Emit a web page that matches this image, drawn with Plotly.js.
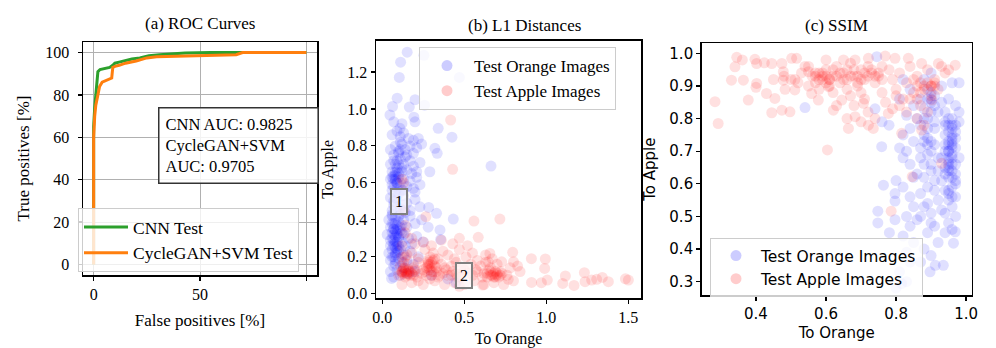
<!DOCTYPE html>
<html><head><meta charset="utf-8">
<script src="https://cdn.plot.ly/plotly-3.0.1.min.js"></script>
<style>html,body{margin:0;padding:0;background:#fff}#chart{width:996px;height:348px}</style>
</head><body><div id="chart"></div>
<script>
// ---- ROC data ----
const rocCnnFpr = [0,0,0,0.5,1,1.5,2,3,5,7.5,9,10,12,15.5,18,21.7,26,31,36,43,55,65,80,100];
const rocCnnTpr = [0,45,65,74,80,88,91,92,92.5,93,94,95,95.5,96.5,97,97.5,98.5,99,99.4,99.8,100,100,100,100];
const rocSvmFpr = [0,0,0,0.5,1,2,2.8,4,5,6,7,8.5,9,10,12,15,20,25,29.6,40,50,67,70,100];
const rocSvmTpr = [0,30,60,70,75,80,84,86,86.5,86.8,87.5,88,93,93.5,94,95,96,97.5,98,98.3,98.5,99,100,100];
const rocNames = ["CNN Test","CycleGAN+SVM Test"];
const aucText = ["CNN AUC: 0.9825","CycleGAN+SVM","AUC: 0.9705"];

// ---- L1 distances ----
const l1OrangeX = [0.152,0.112,0.104,0.254,0.47,0.091,0.063,0.047,0.165,0.2,0.258,0.193,0.108,0.341,0.425,0.321,0.335,0.29,0.663,0.283,0.331,0.433,0.352,0.356,0.057,
0.06,0.09,0.11,0.13,0.16,0.19,0.22,0.07,0.12,0.20,
0.05,0.08,0.10,0.12,0.14,0.17,0.19,0.21,0.24,0.07,0.15,0.11,
0.05,0.07,0.09,0.11,0.13,0.15,0.17,0.19,0.21,0.23,0.08,0.12,0.10,0.14,0.18,
0.05,0.06,0.07,0.08,0.09,0.10,0.11,0.12,0.13,0.15,0.17,0.19,0.21,0.23,0.08,0.20,
0.05,0.07,0.09,0.11,0.13,0.15,0.17,0.20,0.23,0.06,
0.04,0.05,0.06,0.07,0.08,0.09,0.10,0.11,0.12,0.13,0.15,0.17,0.20,0.24,0.28,
0.03,0.05,0.06,0.07,0.08,0.09,0.10,0.11,0.12,0.13,0.14,0.16,0.18,0.21,0.25,0.08,
0.04,0.05,0.06,0.07,0.08,0.09,0.10,0.11,0.12,0.13,0.15,0.17,0.19,0.22,0.07,
0.05,0.07,0.09,0.11,0.13,0.16,0.20,0.30,0.40,0.45,
0.06,0.08,0.09,0.10,0.07,0.09,0.08,0.10,0.09,0.11,
0.07,0.08,0.09,0.07,0.09,0.06,0.08,0.10,0.07,0.09,
0.06,0.08,0.07,0.09,0.06,0.08,0.07,0.09,0.08,0.06,
0.07,0.08,0.10,0.07,0.09,0.06,0.10,0.08,0.10,0.05,
0.09,0.10,0.08,0.12,0.06,0.11,0.13,0.12,0.14,0.12];
const l1OrangeY = [1.307,1.253,1.17,1.29,1.17,1.058,1.013,0.967,1.01,1.05,1.02,0.955,0.895,0.895,0.847,0.787,0.76,0.66,0.691,0.467,0.435,0.404,0.345,0.294,0.083,
0.86,0.88,0.85,0.87,0.84,0.83,0.84,0.93,0.92,0.93,
0.78,0.80,0.77,0.81,0.78,0.80,0.76,0.79,0.81,0.75,0.75,0.82,
0.70,0.72,0.68,0.73,0.70,0.67,0.72,0.69,0.66,0.71,0.66,0.66,0.70,0.74,0.65,
0.62,0.59,0.64,0.61,0.57,0.63,0.60,0.56,0.62,0.58,0.61,0.57,0.63,0.59,0.55,0.55,
0.52,0.48,0.51,0.46,0.53,0.49,0.45,0.51,0.47,0.45,
0.40,0.36,0.43,0.38,0.41,0.35,0.39,0.43,0.37,0.40,0.36,0.42,0.38,0.40,0.36,
0.32,0.29,0.33,0.27,0.31,0.26,0.30,0.34,0.28,0.32,0.26,0.30,0.27,0.31,0.28,0.25,
0.22,0.18,0.24,0.20,0.16,0.22,0.19,0.24,0.17,0.21,0.18,0.23,0.16,0.20,0.15,
0.12,0.09,0.13,0.10,0.14,0.11,0.12,0.10,0.08,0.06,
0.63,0.62,0.60,0.65,0.35,0.32,0.21,0.23,0.28,0.36,
0.62,0.64,0.60,0.58,0.66,0.56,0.52,0.54,0.50,0.47,
0.42,0.38,0.35,0.33,0.30,0.28,0.26,0.24,0.22,0.20,
0.32,0.34,0.31,0.29,0.37,0.38,0.26,0.18,0.42,0.26,
0.72,0.76,0.70,0.68,0.66,0.78,0.56,0.48,0.44,0.33];

const l1AppleX = [0.417,0.429,0.559,0.717,0.585,0.47,0.266,0.909,0.994,0.99,0.91,0.97,1.006,1.10,1.116,1.169,1.232,1.236,1.276,1.307,1.341,1.378,1.482,1.5,0.825,0.84,0.795,0.8,0.728,0.656,0.646,0.768,0.612,
0.12,0.18,0.25,0.32,0.38,0.44,0.50,0.56,0.62,0.68,0.74,0.80,0.22,0.47,
0.10,0.12,0.14,0.15,0.17,0.19,0.21,0.24,0.27,0.29,0.31,0.34,0.37,0.40,0.43,0.46,0.52,0.55,0.58,0.61,0.64,0.67,0.69,0.71,0.73,0.76,0.13,0.16,0.30,0.66,
0.11,0.13,0.16,0.19,0.22,0.25,0.28,0.30,0.33,0.36,0.39,0.42,0.45,0.48,0.54,0.57,0.60,0.63,0.66,0.70,0.78,0.29,
0.14,0.18,0.22,0.26,0.29,0.31,0.34,0.37,0.40,0.44,0.47,0.51,0.55,0.58,0.63,0.67,0.28,
0.12,0.18,0.20,0.25,0.30,0.36,0.43,0.52,0.14,
0.12,0.13,0.14,0.13,0.12,0.15,0.28,0.32,0.70,0.72,0.68,
0.12,0.13,0.14,0.15,0.16,0.17,0.18,0.19,0.20,0.14,
0.27,0.29,0.30,0.31,0.28,0.32,0.26,0.33,0.35,0.30,
0.62,0.64,0.66,0.68,0.70,0.72,0.65,0.69,0.45,0.48,
0.12,0.13,0.15,0.38,0.42,0.50];
const l1AppleY = [0.94,0.673,0.393,0.404,0.305,0.30,0.417,0.19,0.188,0.137,0.061,0.06,0.074,0.056,0.096,0.045,0.114,0.065,0.074,0.078,0.088,0.065,0.081,0.074,0.15,0.12,0.224,0.173,0.173,0.218,0.173,0.078,0.047,
0.05,0.06,0.05,0.07,0.05,0.06,0.05,0.07,0.05,0.06,0.05,0.07,0.07,0.04,
0.10,0.12,0.09,0.11,0.10,0.12,0.09,0.11,0.10,0.08,0.12,0.09,0.11,0.10,0.12,0.09,0.11,0.10,0.12,0.09,0.11,0.10,0.12,0.09,0.11,0.10,0.11,0.12,0.10,0.12,
0.15,0.14,0.16,0.14,0.17,0.13,0.15,0.17,0.14,0.16,0.13,0.15,0.17,0.14,0.16,0.13,0.15,0.17,0.14,0.16,0.14,0.13,
0.20,0.22,0.19,0.24,0.20,0.22,0.19,0.23,0.21,0.19,0.24,0.20,0.22,0.18,0.21,0.19,0.18,
0.26,0.30,0.27,0.28,0.26,0.29,0.27,0.26,0.33,
0.62,0.60,0.37,0.45,0.12,0.11,0.16,0.19,0.11,0.10,0.09,
0.11,0.13,0.12,0.10,0.13,0.12,0.11,0.10,0.13,0.14,
0.14,0.16,0.14,0.18,0.17,0.15,0.12,0.12,0.10,0.12,
0.11,0.09,0.10,0.11,0.10,0.12,0.13,0.09,0.11,0.09,
0.20,0.17,0.21,0.14,0.10,0.13];

// ---- SSIM ----
const ssimOrangeX = [0.745,0.74,0.54,0.759,0.764,0.748,0.748,0.781,0.797,0.797,0.797,0.816,0.897,0.912,0.935,0.964,0.969,0.76,0.78,0.82,0.81,0.80,0.82,
0.94,0.96,0.98,0.95,0.97,0.94,0.96,0.95,0.97,0.94,0.96,0.95,0.97,0.94,0.96,0.95,0.97,0.96,0.94,0.97,0.95,0.96,0.94,0.97,0.95,0.96,0.98,0.97,0.95,0.96,0.98,0.95,0.96,0.93,0.98,0.93,
0.88,0.90,0.89,0.91,0.87,0.90,0.88,0.92,0.89,0.87,0.91,0.88,0.90,0.87,0.89,0.92,0.88,0.90,0.86,0.91,0.89,0.87,0.92,0.88,0.90,0.86,0.91,0.89,0.92,0.88,0.90,0.87,0.91,0.86,0.93,
0.82,0.84,0.81,0.85,0.83,0.84,0.85,0.83,0.84,0.85,0.82,0.84,0.85,0.83,0.84,0.82,0.85,0.83,0.84,0.81,0.83,0.80,
0.95,0.96,0.95,0.96,0.94,0.90,0.89,0.93,0.97,0.95,
0.95,0.96,0.95,0.96,0.95,0.96,0.95,0.96,0.94,0.97,
0.95,0.96,0.94,0.97,0.95,0.96,0.94,0.97,0.95,0.96,
0.89,0.90,0.91,0.88,0.90,0.89,0.91,0.88,0.90,0.89,
0.87,0.90,0.88,0.91,0.89,0.90,0.87,0.93,0.94,0.92];
const ssimOrangeY = [0.99,0.83,0.834,0.714,0.596,0.516,0.48,0.45,0.57,0.547,0.49,0.294,0.33,0.35,0.35,0.418,0.453,0.79,0.78,0.75,0.71,0.61,0.68,
0.82,0.80,0.79,0.78,0.76,0.75,0.74,0.72,0.71,0.70,0.69,0.67,0.66,0.65,0.64,0.62,0.61,0.59,0.58,0.56,0.55,0.53,0.51,0.50,0.48,0.46,0.82,0.84,0.86,0.91,0.91,0.73,0.77,0.68,0.68,0.61,
0.92,0.94,0.89,0.87,0.86,0.85,0.83,0.82,0.80,0.78,0.77,0.75,0.73,0.71,0.69,0.68,0.66,0.64,0.63,0.61,0.59,0.57,0.55,0.53,0.51,0.49,0.47,0.45,0.42,0.40,0.38,0.36,0.72,0.80,0.90,
0.92,0.89,0.86,0.84,0.81,0.77,0.73,0.70,0.66,0.62,0.59,0.56,0.53,0.50,0.47,0.44,0.42,0.39,0.36,0.33,0.30,0.28,
0.70,0.75,0.65,0.72,0.78,0.86,0.74,0.85,0.63,0.57,
0.80,0.78,0.76,0.73,0.70,0.68,0.66,0.71,0.79,0.74,
0.64,0.62,0.72,0.78,0.68,0.66,0.63,0.60,0.58,0.56,
0.86,0.88,0.84,0.80,0.82,0.77,0.79,0.73,0.70,0.72,
0.68,0.66,0.62,0.58,0.54,0.48,0.50,0.52,0.45,0.64];

const ssimAppleX = [0.345,0.361,0.397,0.402,0.34,0.33,0.364,0.402,0.40,0.378,0.43,0.454,0.445,0.474,0.497,0.424,0.445,0.474,0.502,0.516,0.478,0.478,0.511,0.511,0.483,0.54,0.55,0.559,0.578,0.607,0.621,0.645,0.664,0.683,0.707,0.721,0.735,0.683,0.721,0.769,0.797,0.835,0.873,0.921,0.969,0.778,0.816,0.846,0.786,0.604,0.283,0.292,0.93,0.873,0.902,
0.56,0.57,0.58,0.59,0.60,0.61,0.62,0.63,0.64,0.65,0.66,0.67,0.68,0.69,0.70,0.71,0.72,0.73,0.74,0.75,0.76,0.58,0.62,0.66,0.70,0.55,0.60,0.65,0.52,0.53,
0.78,0.79,0.80,0.81,0.82,0.83,0.84,0.85,0.86,0.87,0.88,0.89,0.90,0.91,0.92,0.93,0.94,0.81,0.83,0.86,0.88,0.89,0.91,0.90,0.80,0.95,0.76,0.77,0.79,
0.68,0.72,0.74,0.70,0.66,0.63,0.67,0.71,0.59,0.61,0.69,0.57,
0.57,0.58,0.59,0.60,0.61,0.62,0.63,0.64,0.65,0.66,
0.67,0.68,0.69,0.70,0.71,0.72,0.73,0.74,0.75,0.76,
0.86,0.87,0.88,0.89,0.90,0.91,0.85,0.86,0.84,0.87,
0.48,0.50,0.45,0.55,0.60];
const ssimAppleY = [0.988,0.98,0.982,0.969,0.959,0.918,0.918,0.908,0.896,0.857,0.877,0.862,0.818,0.826,0.821,0.971,0.969,0.969,0.985,0.985,0.944,0.918,0.92,0.888,0.89,0.96,0.944,0.877,0.857,0.898,0.826,0.857,0.77,0.806,0.847,0.78,0.77,0.98,0.985,0.992,0.985,0.985,0.969,0.969,0.964,0.816,0.755,0.622,0.516,0.704,0.852,0.785,0.663,0.765,0.857,
0.93,0.91,0.94,0.92,0.95,0.90,0.93,0.96,0.91,0.94,0.92,0.97,0.93,0.90,0.95,0.92,0.96,0.94,0.91,0.93,0.96,0.89,0.88,0.89,0.88,0.96,0.98,0.98,0.91,0.94,
0.95,0.92,0.89,0.94,0.86,0.91,0.96,0.88,0.93,0.84,0.90,0.95,0.87,0.92,0.89,0.96,0.94,0.84,0.82,0.80,0.78,0.82,0.90,0.90,0.87,0.95,0.88,0.85,0.83,
0.84,0.82,0.80,0.79,0.80,0.84,0.87,0.86,0.93,0.92,0.91,0.94,
0.93,0.92,0.94,0.93,0.92,0.95,0.93,0.94,0.92,0.95,
0.93,0.95,0.93,0.92,0.94,0.93,0.95,0.93,0.94,0.92,
0.90,0.88,0.89,0.91,0.90,0.91,0.92,0.86,0.86,0.91,
0.93,0.92,0.92,0.90,0.91];

const scatterNames = ["Test Orange Images","Test Apple Images"];
const calloutLabels = ["1","2"];
const calloutX = [0.10,0.50];
const calloutY = [0.50,0.10];
const panelTitles = ["(a) ROC Curves","(b) L1 Distances","(c) SSIM"];

// ---- layout helpers ----
const W = 996, H = 348;
const px = v => v / W, py = v => 1 - v / H;
const SERIF = "Liberation Serif, Times New Roman, serif";
const SANS = "DejaVu Sans, sans-serif";

const mk = (c) => ({color: c, size: 11, opacity: 0.12, line: {width: 0}});
const traces = [
  {type:'scatter', mode:'lines', x: rocCnnFpr, y: rocCnnTpr, name: rocNames[0], line:{color:'#2ca02c', width:3}, xaxis:'x', yaxis:'y', legend:'legend'},
  {type:'scatter', mode:'lines', x: rocSvmFpr, y: rocSvmTpr, name: rocNames[1], line:{color:'#ff7f0e', width:3}, xaxis:'x', yaxis:'y', legend:'legend'},
  {type:'scatter', mode:'markers', x: l1OrangeX, y: l1OrangeY, name: scatterNames[0], marker: mk('blue'), xaxis:'x2', yaxis:'y2', legend:'legend2'},
  {type:'scatter', mode:'markers', x: l1AppleX, y: l1AppleY, name: scatterNames[1], marker: mk('red'), xaxis:'x2', yaxis:'y2', legend:'legend2'},
  {type:'scatter', mode:'markers', x: ssimOrangeX, y: ssimOrangeY, name: scatterNames[0], marker: mk('blue'), xaxis:'x3', yaxis:'y3', legend:'legend3'},
  {type:'scatter', mode:'markers', x: ssimAppleX, y: ssimAppleY, name: scatterNames[1], marker: mk('red'), xaxis:'x3', yaxis:'y3', legend:'legend3'}
];

const axBase = (font, sz) => ({showline:true, mirror:true, linecolor:'black', linewidth:1.5, ticks:'outside', ticklen:4, tickwidth:1.2, tickcolor:'black', zeroline:false, showgrid:false, tickfont:{family:font, size:sz, color:'black'}});

const layout = {
  width: W, height: H, margin:{l:0,r:0,t:0,b:0}, paper_bgcolor:'white', plot_bgcolor:'white', showlegend:true,
  xaxis: Object.assign(axBase(SERIF,16), {domain:[px(83),px(317)], range:[-5,105], tickvals:[0,50,100], ticktext:['0','50',''], showgrid:true, gridcolor:'#b0b0b0', gridwidth:1, anchor:'y',
    title:{text:'False positives [%]', font:{family:SERIF, size:17, color:'black'}, standoff:12}}),
  yaxis: Object.assign(axBase(SERIF,16), {domain:[py(275),py(42)], range:[-5,105], tickvals:[0,20,40,60,80,100], showgrid:true, gridcolor:'#b0b0b0', gridwidth:1, anchor:'x', ticklabelstandoff:5,
    title:{text:'True positives [%]', font:{family:SERIF, size:17, color:'black'}, standoff:11}}),
  xaxis2: Object.assign(axBase(SERIF,16), {domain:[px(376),px(641)], range:[-0.038,1.577], tickvals:[0,0.5,1,1.5], ticktext:['0.0','0.5','1.0','1.5'], anchor:'y2',
    title:{text:'To Orange', font:{family:SERIF, size:16, color:'black'}, standoff:8}}),
  yaxis2: Object.assign(axBase(SERIF,16), {domain:[py(298),py(40.7)], range:[-0.023,1.369], tickvals:[0,0.2,0.4,0.6,0.8,1.0,1.2], ticktext:['0.0','0.2','0.4','0.6','0.8','1.0','1.2'], anchor:'x2',
    title:{text:'To Apple', font:{family:SERIF, size:16, color:'black'}, standoff:9}}),
  xaxis3: Object.assign(axBase(SANS,15), {domain:[px(701.7),px(971.7)], range:[0.245,1.016], tickvals:[0.4,0.6,0.8,1.0], ticktext:['0.4','0.6','0.8','1.0'], anchor:'y3',
    title:{text:'To Orange', font:{family:SANS, size:15, color:'black'}, standoff:6}}),
  yaxis3: Object.assign(axBase(SANS,15), {domain:[py(295),py(43.3)], range:[0.259,1.031], tickvals:[0.3,0.4,0.5,0.6,0.7,0.8,0.9,1.0], ticktext:['0.3','0.4','0.5','0.6','0.7','0.8','0.9','1.0'], anchor:'x3',
    title:{text:'To Apple', font:{family:SANS, size:15, color:'black'}, standoff:10}}),
  legend: {x:px(78), y:py(208), xanchor:'left', yanchor:'top', bgcolor:'rgba(255,255,255,0.8)', bordercolor:'#cccccc', borderwidth:1, font:{family:SERIF, size:17.5, color:'black'}, itemwidth:44, tracegroupgap:0},
  legend2: {x:px(419), y:py(47), xanchor:'left', yanchor:'top', bgcolor:'rgba(255,255,255,0.8)', bordercolor:'#cccccc', borderwidth:1, font:{family:SERIF, size:17, color:'black'}, itemwidth:44},
  legend3: {x:px(710), y:py(238), xanchor:'left', yanchor:'top', bgcolor:'rgba(255,255,255,0.8)', bordercolor:'#cccccc', borderwidth:1, font:{family:SANS, size:15.5, color:'black'}, itemwidth:40},
  annotations: [
    {xref:'paper', yref:'paper', x:px(200), y:py(23), xanchor:'center', yanchor:'middle', text:panelTitles[0], showarrow:false, font:{family:SERIF, size:17, color:'black'}},
    {xref:'paper', yref:'paper', x:px(524), y:py(26), xanchor:'center', yanchor:'middle', text:panelTitles[1], showarrow:false, font:{family:SERIF, size:17, color:'black'}},
    {xref:'paper', yref:'paper', x:px(836), y:py(26), xanchor:'center', yanchor:'middle', text:panelTitles[2], showarrow:false, font:{family:SERIF, size:17, color:'black'}},
    {xref:'paper', yref:'paper', x:px(238), y:py(145), xanchor:'center', yanchor:'middle', text:aucText.join('<br>'), align:'left', showarrow:false, width:146,
      font:{family:SERIF, size:16.5, color:'black'}, bgcolor:'rgba(255,255,255,0.85)', bordercolor:'#333', borderwidth:1.5, borderpad:6},
    ...calloutLabels.map((t,i)=>({xref:'x2', yref:'y2', x:calloutX[i], y:calloutY[i], text:t, showarrow:false, font:{family:SERIF, size:16, color:'black'},
      bgcolor:'rgba(255,255,255,0.75)', bordercolor:'#808080', borderwidth:2, borderpad:3}))
  ]
};
Plotly.newPlot('chart', traces, layout, {staticPlot:true, displayModeBar:false});
</script></body></html>
